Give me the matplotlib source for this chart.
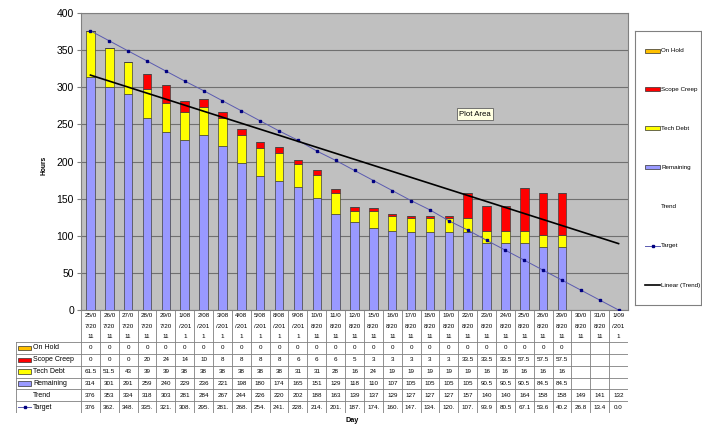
import matplotlib.pyplot as plt
import numpy as np
from matplotlib.patches import Rectangle

plt.rcParams['font.family'] = ['Liberation Sans', 'DejaVu Sans']

# sprint days
days = ["25/07/2011", "26/07/2011", "27/07/2011", "28/07/2011", "29/07/2011",
        "1/08/2011", "2/08/2011", "3/08/2011", "4/08/2011", "5/08/2011",
        "8/08/2011", "9/08/2011", "10/08/2011", "11/08/2011", "12/08/2011",
        "15/08/2011", "16/08/2011", "17/08/2011", "18/08/2011", "19/08/2011",
        "22/08/2011", "23/08/2011", "24/08/2011", "25/08/2011", "26/08/2011",
        "29/08/2011", "30/08/2011", "31/08/2011", "1/09/2011"]

# hours per category (only filled in up to 29/08)
on_hold = [0, 0, 0, 0, 0, 0, 0, 0, 0, 0, 0, 0, 0,
           0, 0, 0, 0, 0, 0, 0, 0, 0, 0, 0, 0, 0]
scope_creep = [0, 0, 0, 20, 24, 14, 10, 8, 8, 8, 8, 6, 6,
               6, 5, 3, 3, 3, 3, 3, 33.5, 33.5, 33.5, 57.5, 57.5, 57.5]
tech_debt = [61.5, 51.5, 43, 39, 39, 38, 38, 38, 38, 38, 38, 31, 31,
             28, 16, 24, 19, 19, 19, 19, 19, 16, 16, 16, 16, 16]
remaining = [314, 301, 291, 259, 240, 229, 236, 221, 198, 180, 174, 165, 151,
             129, 118, 110, 107, 105, 105, 105, 105, 90.5, 90.5, 90.5, 84.5, 84.5]
trend = [376, 353, 334, 318, 303, 281, 284, 267, 244, 226, 220, 202, 188,
         163, 139, 137, 129, 127, 127, 127, 157, 140, 140, 164, 158, 158, 149, 141, 132]
target = [376, 362.5, 348.9, 335.4, 321.8, 308.3, 295.4, 281.8, 268.3, 254.7,
          241.2, 228.6, 214.1, 201.5, 187.9, 174.4, 160.9, 147.3, 134.8, 120.2,
          107.7, 93.9, 80.5, 67.1, 53.6, 40.2, 26.8, 13.4, 0.0]

W, H = 702, 425
fig = plt.figure(figsize=(W / 100, H / 100), dpi=100)


def px_box(x0, y0, x1, y1):
    return [x0 / W, 1 - y1 / H, (x1 - x0) / W, (y1 - y0) / H]


c_hold, c_scope, c_debt, c_rem = '#ffc000', '#ff0000', '#ffff00', '#9999ff'
c_target, c_tline, c_grid = '#000080', '#5a5ab0', '#808080'

# main plot area
PL, PR, PT, PB = 81, 628, 13, 310
ax = fig.add_axes(px_box(PL, PT, PR, PB))
ax.set_facecolor('#c0c0c0')

n = len(days)
x = np.arange(n)
m = len(remaining)
rem = np.array(remaining)
td = np.array(tech_debt)
sc = np.array(scope_creep)
oh = np.array(on_hold)

bw = 0.45
ec = '#404040'
ax.bar(x[:m], rem, bw, color=c_rem, edgecolor=ec, lw=0.5, zorder=3)
ax.bar(x[:m], td, bw, bottom=rem, color=c_debt, edgecolor=ec, lw=0.5, zorder=3)
ax.bar(x[:m], sc, bw, bottom=rem + td, color=c_scope, edgecolor=ec, lw=0.5, zorder=3)
ax.bar(x[:m], oh, bw, bottom=rem + td + sc, color=c_hold, edgecolor=ec, lw=0.5, zorder=3)

ax.plot(x, target, color=c_tline, lw=0.7, marker='s', ms=1.8,
        mfc=c_target, mec=c_target, zorder=4)

# linear trend line fitted to the trend totals
coef = np.polyfit(x, trend, 1)
ax.plot(x, np.polyval(coef, x), color='black', lw=1.2, zorder=5)

ax.set_xlim(-0.5, n - 0.5)
ax.set_ylim(0, 400)
ax.set_yticks(np.arange(0, 401, 50))
ax.set_xticks([])
ax.grid(axis='y', color='#707070', lw=0.8, zorder=1)
ax.set_axisbelow(True)
ax.tick_params(axis='y', length=3, color=c_grid, labelsize=7.5, pad=2)
for s in ax.spines.values():
    s.set_color(c_grid)
    s.set_linewidth(0.8)

fig.text(44 / W, 1 - 165 / H, 'Hours', rotation=90, fontsize=4.8,
         weight='bold', ha='center', va='center')
fig.text(352 / W, 1 - 420 / H, 'Day', fontsize=5.2, weight='bold',
         ha='center', va='center')
fig.text(475 / W, 1 - 114 / H, 'Plot Area', fontsize=5.6, ha='center', va='center',
         bbox=dict(boxstyle='square,pad=0.3', fc='#ffffe1', ec='#606060', lw=0.6))

# data table under the plot
TL, TB = 16, 413
tax = fig.add_axes(px_box(TL, PB, PR, TB))
colw = (PR - PL) / n
xl = -0.5 - (PL - TL) / colw
tax.set_xlim(xl, n - 0.5)
tax.set_ylim(TB - PB, 0)
tax.axis('off')

hdr = 32
rh = (TB - PB - hdr) / 6
lc = '#808080'
for k in range(n + 1):
    tax.plot([k - 0.5] * 2, [0, TB - PB], color=lc, lw=0.6)
tax.plot([xl, xl], [hdr, TB - PB], color=lc, lw=0.6)
for r in range(7):
    yy = hdr + r * rh
    tax.plot([xl, n - 0.5], [yy, yy], color=lc, lw=0.6)

for i, d in enumerate(days):
    parts = [d[j:j + 4] for j in range(0, len(d), 4)]
    for yy, p in zip([5.5, 16, 26.5], parts):
        tax.text(i, yy, p, ha='center', va='center', fontsize=4.5)


def fmt(v):
    s = f"{v:g}"
    return s[:4] if len(s) > 4 else s


def fmt_target(v):
    return '0.0' if v == 0 else fmt(v)


rows = [("On Hold", on_hold, fmt), ("Scope Creep", scope_creep, fmt),
        ("Tech Debt", tech_debt, fmt), ("Remaining", remaining, fmt),
        ("Trend", trend, fmt), ("Target", target, fmt_target)]
row_fill = {"On Hold": c_hold, "Scope Creep": c_scope,
            "Tech Debt": c_debt, "Remaining": c_rem}


def px_x(px):
    return -0.5 + (px - PL) / colw


for r, (name, vals, f) in enumerate(rows):
    yc = hdr + (r + 0.5) * rh
    for i, v in enumerate(vals):
        tax.text(i, yc, f(v), ha='center', va='center', fontsize=4.5)
    if name in row_fill:
        tax.add_patch(Rectangle((px_x(18), yc - 2.2), (31 - 18) / colw, 4.4,
                                fc=row_fill[name], ec='#303030', lw=0.5))
    elif name == "Target":
        tax.plot([px_x(18), px_x(31)], [yc, yc], color=c_tline, lw=0.7)
        tax.plot([px_x(24.5)], [yc], marker='s', ms=1.8, color=c_target)
    tax.text(px_x(33), yc, name, ha='left', va='center', fontsize=5)

# legend box on the right
lax = fig.add_axes(px_box(635, 31, 701, 305))
lax.set_xlim(635, 701)
lax.set_ylim(305, 31)
lax.set_xticks([])
lax.set_yticks([])
for s in lax.spines.values():
    s.set_color(c_grid)
    s.set_linewidth(0.8)

leg_y = [51, 89, 128, 167, 207, 246, 285]
leg_items = ["On Hold", "Scope Creep", "Tech Debt", "Remaining",
             "Trend", "Target", "Linear (Trend)"]
for yy, name in zip(leg_y, leg_items):
    if name in row_fill:
        lax.add_patch(Rectangle((645, yy - 1.6), 15, 3.2,
                                fc=row_fill[name], ec='#303030', lw=0.5))
    elif name == "Target":
        lax.plot([645, 660], [yy, yy], color=c_tline, lw=0.7)
        lax.plot([652.5], [yy], marker='s', ms=1.8, color=c_target)
    elif name == "Linear (Trend)":
        lax.plot([645, 660], [yy, yy], color='black', lw=1.2)
    lax.text(661, yy, name, ha='left', va='center', fontsize=4.5)

fig.savefig('out.png', dpi=100)
